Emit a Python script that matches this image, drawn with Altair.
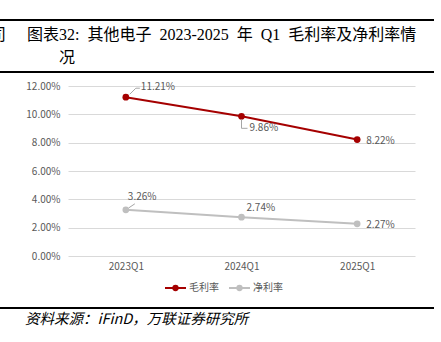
import altair as alt
import pandas as pd

quarters = ["2023Q1", "2024Q1", "2025Q1"]
series = ["毛利率", "净利率"]
gross_margin = [11.21, 9.86, 8.22]
net_margin = [3.26, 2.74, 2.27]
y_ticks = [0, 2, 4, 6, 8, 10, 12]
title_line1 = "图表32:\u2002其他电子\u20022023-2025\u2002年\u2002Q1\u2002毛利率及净利率情"
title_line2 = "况"
source_text = "资料来源：iFinD，万联证券研究所"

RED = "#A50000"
GRAY = "#BFBFBF"
TXT = "#595959"
FONT = "Noto Sans CJK SC"
TFONT = "Liberation Serif, Noto Sans CJK SC"

rows = []
for q, g in zip(quarters, gross_margin):
    rows.append({"quarter": q, "series": series[0], "value": g})
for q, n in zip(quarters, net_margin):
    rows.append({"quarter": q, "series": series[1], "value": n})
df = pd.DataFrame(rows)

xs = alt.X("quarter:N", scale=alt.Scale(type="point", padding=0.5, domain=quarters),
           axis=alt.Axis(title=None, domain=False, ticks=False, grid=False, labelAngle=0,
                         labelColor=TXT, labelFont=FONT, labelFontSize=10, labelPadding=5))
ys = alt.Y("value:Q", scale=alt.Scale(domain=[0, 12], nice=False),
           axis=alt.Axis(title=None, values=y_ticks, domain=False, ticks=False,
                         gridColor="#D9D9D9", gridWidth=1, labelOverlap=False,
                         labelExpr="format(datum.value, '.2f') + '%'",
                         labelColor=TXT, labelFont=FONT, labelFontSize=10, labelPadding=8))
color = alt.Color("series:N", scale=alt.Scale(domain=series, range=[RED, GRAY]), legend=None)

base = alt.Chart(df)
lines = base.mark_line(strokeWidth=2).encode(x=xs, y=ys, color=color, detail="series:N")
points = base.mark_point(filled=True, size=45, opacity=1).encode(x=xs, y=ys, color=color)

layers = [lines, points]

# data labels
label_offsets = {
    (series[0], quarters[0]): (15, -10),
    (series[0], quarters[1]): (8, 12),
    (series[0], quarters[2]): (9, 1),
    (series[1], quarters[0]): (2, -13),
    (series[1], quarters[1]): (5, -9),
    (series[1], quarters[2]): (9, 1),
}
for (s, q), (dx, dy) in label_offsets.items():
    layers.append(
        base.transform_filter((alt.datum.series == s) & (alt.datum.quarter == q))
        .transform_calculate(lbl="format(datum.value, '.2f') + '%'")
        .mark_text(align="left", baseline="middle", dx=dx, dy=dy, font=FONT,
                   fontSize=10, color=TXT)
        .encode(x=xs, y=ys, text="lbl:N")
    )

# leader lines
leaders = [
    (series[0], quarters[0], 4, 10, -3, -9),
    (series[0], quarters[0], 10, 14, -9, -9),
    (series[0], quarters[1], 0, 0, 3, 12),
    (series[0], quarters[1], 0, 6, 12, 12),
    (series[1], quarters[0], 3, 9, -2, -6),
]
for s, q, x1, x2, y1, y2 in leaders:
    layers.append(
        base.transform_filter((alt.datum.series == s) & (alt.datum.quarter == q))
        .mark_rule(color="#A6A6A6", strokeWidth=1, xOffset=x1, x2Offset=x2,
                   yOffset=y1, y2Offset=y2)
        .encode(x=xs, x2="quarter:N", y=ys, y2="value:Q")
    )

# header / footer lines and texts
deco = alt.Chart(pd.DataFrame({"a": [0]}))
for yy in [-66, -14, 222]:
    layers.append(deco.mark_rule(color="#000000", strokeWidth=2).encode(
        x=alt.value(-68), x2=alt.value(366), y=alt.value(yy)))
layers.append(deco.mark_text(align="left", baseline="middle", font=TFONT, fontSize=16,
                             color="#000000", text=title_line1).encode(
    x=alt.value(-41), y=alt.value(-51)))
layers.append(deco.mark_text(align="left", baseline="middle", font=TFONT, fontSize=16,
                             color="#000000", text=title_line2).encode(
    x=alt.value(-9), y=alt.value(-28)))
layers.append(deco.mark_text(align="right", baseline="middle", font=TFONT, fontSize=16,
                             color="#000000", text="司").encode(
    x=alt.value(-62), y=alt.value(-51)))
layers.append(deco.mark_text(align="left", baseline="middle", font=FONT, fontSize=14.5,
                             fontStyle="italic", color="#000000", text=source_text).encode(
    x=alt.value(-43), y=alt.value(234)))

# manual legend
legend_pos = [(series[0], RED, 97, 118, 107.5, 121), (series[1], GRAY, 161, 182, 171.5, 185)]
for name, col, lx1, lx2, px, tx in legend_pos:
    layers.append(deco.mark_rule(color=col, strokeWidth=2).encode(
        x=alt.value(lx1), x2=alt.value(lx2), y=alt.value(202)))
    layers.append(deco.mark_point(color=col, filled=True, size=40, opacity=1).encode(
        x=alt.value(px), y=alt.value(202)))
    layers.append(deco.mark_text(align="left", baseline="middle", font=FONT, fontSize=10,
                                 color=TXT, text=name).encode(
        x=alt.value(tx), y=alt.value(202)))

chart = alt.layer(*layers).properties(
    width=347, height=170,
    autosize=alt.AutoSizeParams(type="none"),
    padding={"left": 68, "top": 86, "right": 26, "bottom": 86},
    background="white",
).configure_view(stroke=None)

chart.save("out.html", embed_options={"renderer": "svg", "actions": False})
